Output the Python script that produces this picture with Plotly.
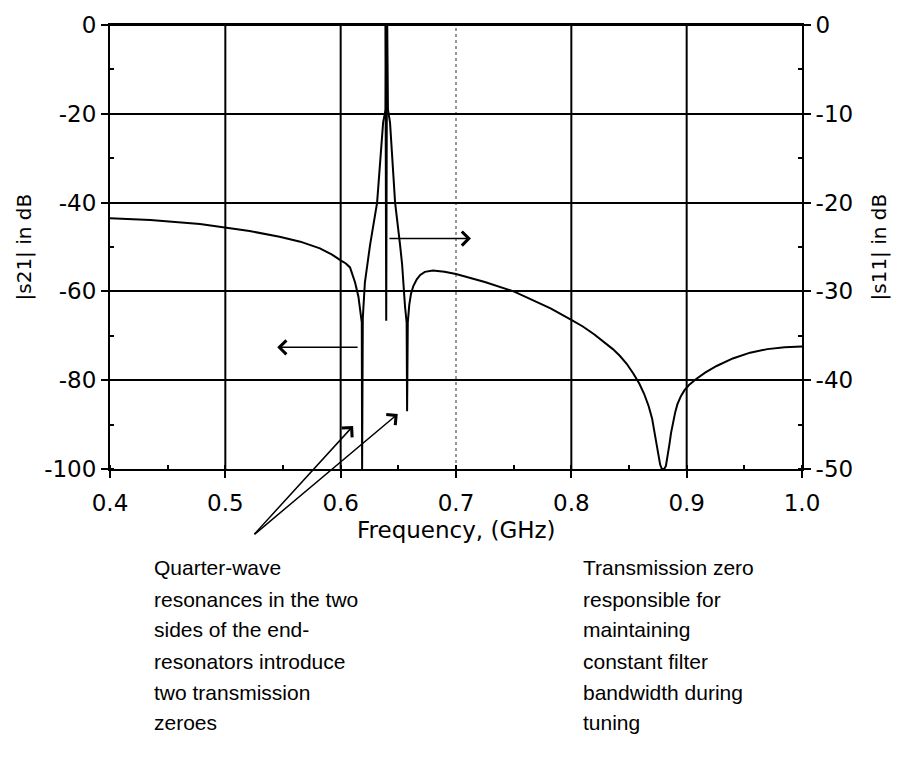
import plotly.graph_objects as go

# |S21| response of the tunable filter (left axis, dB)
freq_s21 = [0.400, 0.435, 0.478, 0.521, 0.547, 0.565, 0.582, 0.5925, 0.600, 0.6045,
            0.6081, 0.6125, 0.6154, 0.6172, 0.6183, 0.6186, 0.6192, 0.6210, 0.6255,
            0.6316, 0.6368, 0.6390, 0.6396, 0.6404, 0.6410, 0.6428, 0.6472, 0.6515,
            0.6533, 0.6558, 0.6572, 0.6576, 0.6582, 0.6595, 0.6610, 0.6630, 0.6660,
            0.6690, 0.6730, 0.6800, 0.6900, 0.700, 0.725, 0.750, 0.770, 0.782,
            0.800, 0.810, 0.820, 0.830, 0.836, 0.842, 0.848, 0.854, 0.859, 0.863,
            0.867, 0.870, 0.8725, 0.875, 0.877, 0.8785, 0.8805, 0.882, 0.8835, 0.885,
            0.8865, 0.888, 0.890, 0.892, 0.895, 0.898, 0.902, 0.908, 0.916, 0.926,
            0.940, 0.955, 0.970, 0.985, 1.000]
s21_db = [-43.5, -43.9, -44.8, -46.4, -47.7, -48.8, -50.3, -51.7, -53.0, -53.7,
          -54.6, -58.0, -61.2, -64.5, -67.0, -100.0, -66.0, -58.0, -49.5,
          -40.0, -22.0, -19.0, -0.5, -0.5, -19.0, -22.0, -40.0, -49.5,
          -54.0, -63.4, -67.0, -87.0, -67.0, -63.0, -60.5, -58.8, -57.3,
          -56.3, -55.6, -55.3, -55.6, -56.1, -57.9, -60.0, -62.3, -63.8,
          -66.4, -67.9, -69.7, -71.7, -73.0, -74.5, -76.3, -78.6, -80.8, -83.0,
          -85.8, -88.6, -92.0, -96.0, -99.0, -100.0, -100.0, -99.3, -97.3, -94.5,
          -91.8, -89.6, -87.3, -85.4, -83.6, -82.3, -81.1, -79.8, -78.3, -76.8,
          -75.1, -73.8, -73.0, -72.6, -72.4]

# |S11| response (right axis, dB)
freq_s11 = [0.400, 0.6388, 0.6395, 0.6402, 1.000]
s11_db = [0.0, 0.0, -33.3, 0.0, 0.0]

# Axis ticks
x_ticks = [0.4, 0.5, 0.6, 0.7, 0.8, 0.9, 1.0]
x_tick_text = ["0.4", "0.5", "0.6", "0.7", "0.8", "0.9", "1.0"]
y_left_ticks = [0, -20, -40, -60, -80, -100]
y_right_ticks = [0, -10, -20, -30, -40, -50]

W, H = 898, 763
L, R, T, B = 110, 96, 16, 294
PW, PH = W - L - R, H - T - B

CHART_FONT = "DejaVu Sans, sans-serif"
NOTE_FONT = "Liberation Sans, Arial, sans-serif"


def px(x):
    return (x - L) / PW


def py(y):
    return (H - B - y) / PH


fig = go.Figure()
fig.add_trace(go.Scatter(x=freq_s21, y=s21_db, mode="lines",
                         line=dict(color="black", width=2), yaxis="y",
                         hoverinfo="skip", showlegend=False))
fig.add_trace(go.Scatter(x=freq_s11, y=s11_db, mode="lines",
                         line=dict(color="black", width=2), yaxis="y2",
                         hoverinfo="skip", showlegend=False))

# vertical grid lines; the 0.7 line is faint and dotted
shapes = []
for f in x_ticks[1:-1]:
    faint = abs(f - 0.7) < 1e-9
    shapes.append(dict(type="line", xref="x", yref="paper", x0=f, x1=f, y0=0, y1=1,
                       layer="below",
                       line=dict(color="#777777" if faint else "black",
                                 width=1.5 if faint else 2,
                                 dash="dot" if faint else "solid")))

tick_font = dict(family=CHART_FONT, size=23, color="black")
axis_common = dict(showline=True, linecolor="black", linewidth=2,
                   ticks="outside", ticklen=7, tickwidth=2, tickcolor="black",
                   tickfont=tick_font, zeroline=False)

fig.update_layout(
    width=W, height=H,
    margin=dict(l=L, r=R, t=T, b=B, pad=0),
    paper_bgcolor="white", plot_bgcolor="white",
    shapes=shapes,
    xaxis=dict(range=[0.4, 1.0], tickvals=x_ticks, ticktext=x_tick_text,
               mirror=True, showgrid=False, ticklabelstandoff=5,
               minor=dict(dtick=0.05, tick0=0.4, ticks="inside", ticklen=4,
                          tickcolor="black", tickwidth=1.5, showgrid=False),
               **axis_common),
    yaxis=dict(range=[-100, 0], tickvals=y_left_ticks,
               ticktext=[str(v) for v in y_left_ticks],
               showgrid=True, gridcolor="black", gridwidth=2,
               minor=dict(dtick=10, tick0=0, ticks="inside", ticklen=4,
                          tickcolor="black", tickwidth=1.5, showgrid=False),
               **axis_common),
    yaxis2=dict(range=[-50, 0], tickvals=y_right_ticks,
                ticktext=[str(v) for v in y_right_ticks],
                overlaying="y", side="right", showgrid=False,
                minor=dict(dtick=5, tick0=0, ticks="inside", ticklen=4,
                           tickcolor="black", tickwidth=1.5, showgrid=False),
                **axis_common),
)

ann = []
ann.append(dict(text="Frequency, (GHz)", xref="paper", yref="paper",
                x=px(456), y=py(531), showarrow=False,
                font=dict(family=CHART_FONT, size=23, color="black"),
                xanchor="center", yanchor="middle"))
ytitle_font = dict(family=CHART_FONT, size=20, color="black")
ann.append(dict(text="|s21| in dB", xref="paper", yref="paper",
                x=px(24), y=py(243), showarrow=False, font=ytitle_font,
                textangle=-90, xanchor="center", yanchor="middle"))
ann.append(dict(text="|s11| in dB", xref="paper", yref="paper",
                x=px(879), y=py(243), showarrow=False, font=ytitle_font,
                textangle=-90, xanchor="center", yanchor="middle"))

arrow_style = dict(showarrow=True, text="", arrowhead=4, arrowsize=1.8,
                   arrowwidth=1.5, arrowcolor="black", standoff=0, startstandoff=0,
                   xref="x", yref="y", axref="x", ayref="y")
# direction markers: S21 read on the left axis, S11 on the right
ann.append(dict(x=0.545, y=-72.6, ax=0.616, ay=-72.6, **arrow_style))
ann.append(dict(x=0.713, y=-48.1, ax=0.641, ay=-48.1, **arrow_style))
# pointers from the notes to the transmission zeros
ann.append(dict(x=0.6108, y=-90.3, ax=0.524, ay=-115.0, **arrow_style))
ann.append(dict(x=0.6495, y=-87.6, ax=0.524, ay=-115.0, **arrow_style))
ann.append(dict(x=0.8744, y=-103.1, ax=0.8397, ay=-115.2, **arrow_style))

note_left = ["Quarter-wave", "resonances in the two", "sides of the end-",
             "resonators introduce", "two transmission", "zeroes"]
note_right = ["Transmission zero", "responsible for", "maintaining",
              "constant filter", "bandwidth during", "tuning"]
line_rows = [570, 602, 633, 665, 697, 728]
note_font = dict(family=NOTE_FONT, size=21, color="black")
for text, row in zip(note_left, line_rows):
    ann.append(dict(text=text, xref="paper", yref="paper", x=px(152), y=py(row),
                    xanchor="left", yanchor="middle", showarrow=False, font=note_font))
for text, row in zip(note_right, line_rows):
    ann.append(dict(text=text, xref="paper", yref="paper", x=px(581), y=py(row),
                    xanchor="left", yanchor="middle", showarrow=False, font=note_font))

fig.update_layout(annotations=ann)
fig.write_html("out.html")
